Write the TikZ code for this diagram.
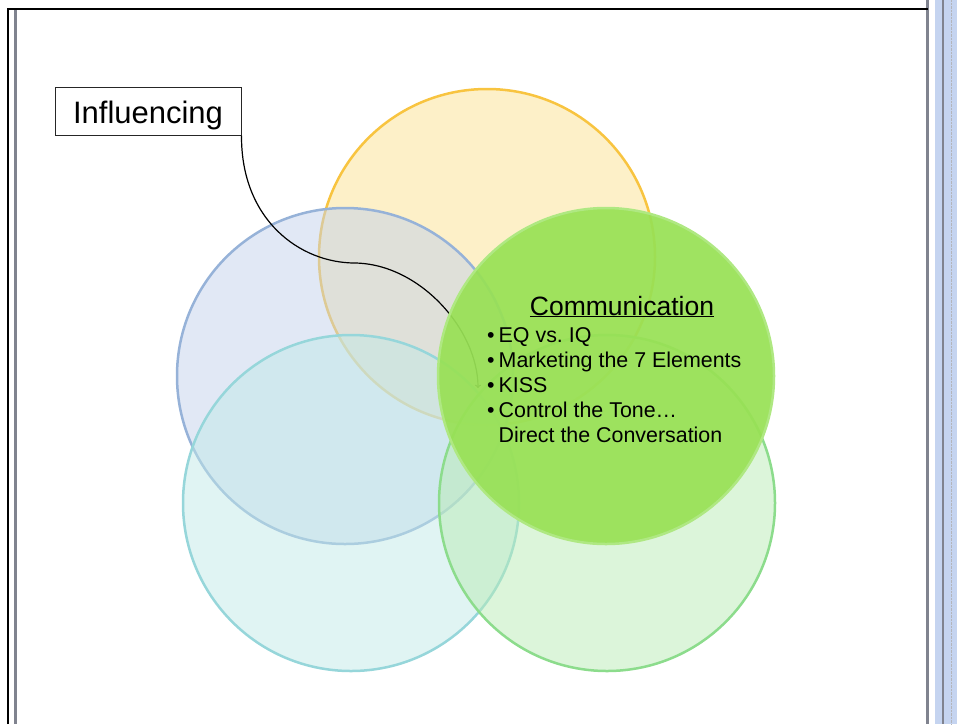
\documentclass[tikz,border=0pt]{standalone}
\usepackage{fontspec}
\setmainfont{Liberation Sans}
\definecolor{goldline}{RGB}{248,196,64}
\definecolor{goldfill}{RGB}{251,225,145}
\definecolor{blueline}{RGB}{150,178,216}
\definecolor{bluefill}{RGB}{195,209,235}
\definecolor{tealline}{RGB}{150,214,218}
\definecolor{tealfill}{RGB}{193,233,231}
\definecolor{mintline}{RGB}{140,220,140}
\definecolor{mintfill}{RGB}{185,235,181}
\definecolor{limeline}{RGB}{175,232,130}
\definecolor{limefill}{RGB}{152,225,85}
\definecolor{framegray}{RGB}{128,131,143}
\definecolor{sidebar}{RGB}{197,212,240}
\tikzset{
  ring/.style 2 args={circle, minimum size=336pt, inner sep=0pt,
    draw=#1, fill=#2, line width=2.5pt, fill opacity=0.5},
}
\begin{document}
\begin{tikzpicture}[x=1pt,y=-1pt]
  \useasboundingbox (0,0) rectangle (957,724);
  % frame and side bar
  \fill[sidebar] (935,0) rectangle (957,724);
  \draw[line width=2pt, framegray] (943,0) -- (943,724);
  \draw[densely dotted, framegray!60] (951,0) -- (951,724);
  \draw[line width=3pt, framegray] (15.5,10) -- (15.5,724);
  \draw[line width=3pt, framegray] (927.5,0) -- (927.5,724);
  \draw[line width=2pt] (8,724) -- (8,9) -- (928,9);
  % circles
  \node[ring={goldline}{goldfill}] (gold) at (487,257) {};
  \node[ring={blueline}{bluefill}] (blue) at (345,376) {};
  \node[ring={tealline}{tealfill}] (teal) at (351,503) {};
  \node[ring={mintline}{mintfill}] (mint) at (607,503) {};
  % callout
  \node[draw=black!85, line width=1pt, minimum width=186pt, minimum height=48pt,
    text height=28pt, text depth=4pt, inner sep=0pt,
    font=\fontsize{31}{36}\selectfont] (infl) at (148,111) {Influencing};
  \coordinate (tip) at (478,388);
  \draw[->, line width=1.2pt] (infl.south east)
    .. controls (241,220) and (300,263) .. (355,263)
    .. controls (420,264) and (478,330) .. (tip);
  \node[ring={limeline}{limefill}, fill opacity=0.93] (comm) at (606,376) {};
  % text
  \node[anchor=base, inner sep=0pt, font=\fontsize{26.5}{30}\selectfont]
    (head) at (622,315) {\underline{Communication}};
  \node[anchor=base west, inner sep=0pt, font=\fontsize{21.4}{25.2}\selectfont]
    (list) at (487,342) {\begin{tabular}[t]{@{}l@{\hspace{4pt}}l@{}}
      \textbullet & EQ vs.\ IQ\\
      \textbullet & Marketing the 7 Elements\\
      \textbullet & KISS\\
      \textbullet & Control the Tone…\\
                  & Direct the Conversation
    \end{tabular}};
\end{tikzpicture}
\end{document}
